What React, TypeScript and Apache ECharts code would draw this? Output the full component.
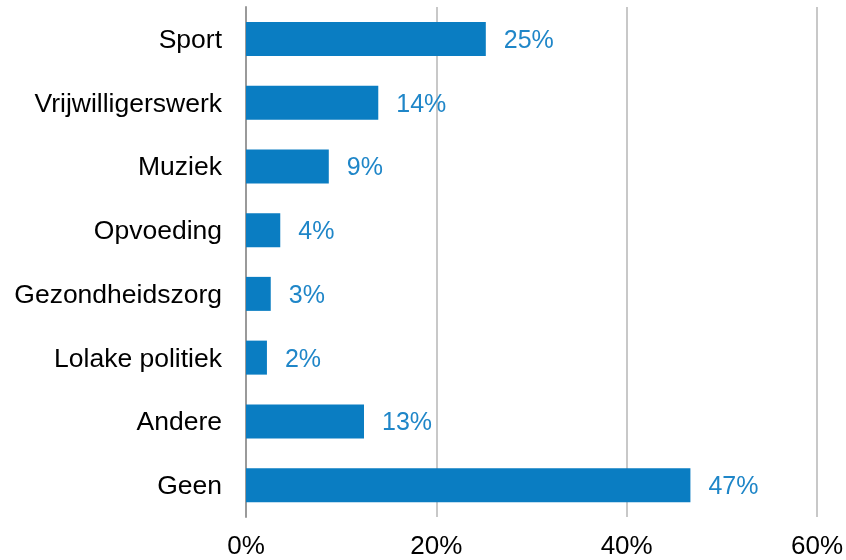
import React, { useEffect, useRef } from "react";
import * as echarts from "echarts";

const categories = ["Sport", "Vrijwilligerswerk", "Muziek", "Opvoeding", "Gezondheidszorg", "Lolake politiek", "Andere", "Geen"];
const values = [25.2, 13.9, 8.7, 3.6, 2.6, 2.2, 12.4, 46.7];
const valueLabels = ["25%", "14%", "9%", "4%", "3%", "2%", "13%", "47%"];

export default function App() {
  const ref = useRef<HTMLDivElement>(null);
  useEffect(() => {
    if (!ref.current) return;
    const chart = echarts.init(ref.current, null, { renderer: "svg" });
    const font = "'Liberation Sans', Arial, sans-serif";
    chart.setOption({
      animation: false,
      grid: { left: 246, right: 29, top: 7, bottom: 43 },
      xAxis: {
        type: "value",
        min: 0,
        max: 60,
        interval: 20,
        axisLine: { show: false },
        axisTick: { show: false },
        axisLabel: {
          formatter: (v: number) => v + "%",
          fontSize: 26,
          lineHeight: 26,
          color: "#000",
          fontFamily: font,
          margin: 15,
        },
        splitLine: { show: true, lineStyle: { color: "#C8C8C8", width: 2 } },
      },
      yAxis: {
        type: "category",
        data: categories,
        inverse: true,
        axisLine: { show: true, lineStyle: { color: "#9A9A9A", width: 2 } },
        axisTick: { show: false },
        axisLabel: { fontSize: 26.5, color: "#000", fontFamily: font, margin: 24 },
      },
      series: [
        {
          type: "bar",
          data: values,
          barWidth: 34,
          itemStyle: { color: "#0A7DC2" },
          label: {
            show: true,
            position: "right",
            distance: 18,
            fontSize: 25,
            color: "#1F86C8",
            fontFamily: font,
            formatter: (p: any) => valueLabels[p.dataIndex],
          },
        },
      ],
    });
    return () => chart.dispose();
  }, []);
  return (
    <div
      ref={ref}
      style={{ position: "fixed", left: 0, top: 0, width: 846, height: 560 }}
    />
  );
}
